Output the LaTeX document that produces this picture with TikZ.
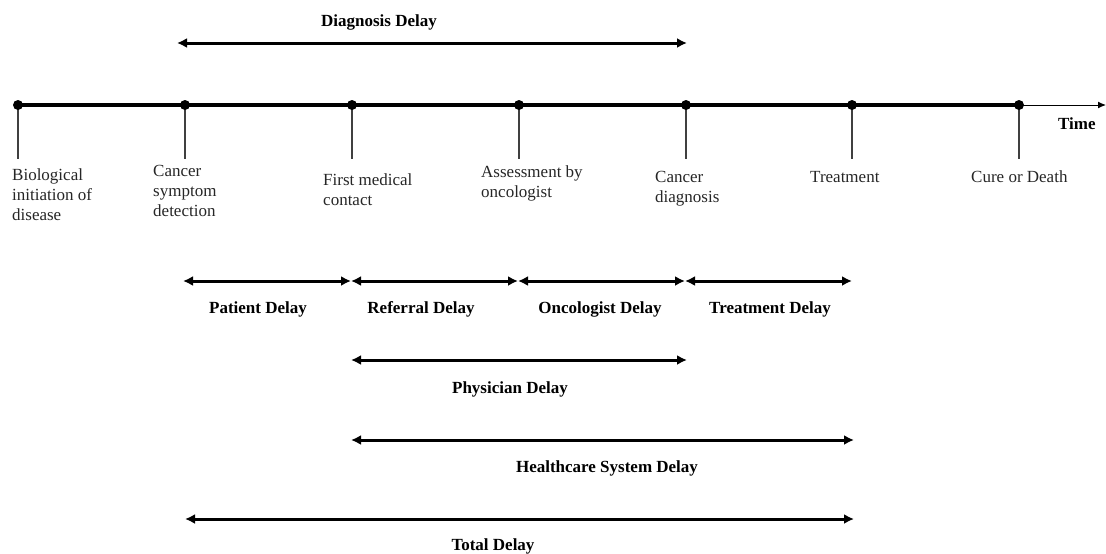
\documentclass[tikz,border=0pt]{standalone}
\usepackage{fontspec}
\setmainfont{Liberation Serif}
\usetikzlibrary{arrows.meta}
\begin{document}
\begin{tikzpicture}[x=1pt,y=-1pt,
  lbl/.style={anchor=base west,inner sep=0pt,align=left,font=\fontsize{17}{20}\selectfont,text=black!85},
  blbl/.style={anchor=base,inner sep=0pt,font=\fontsize{17}{20}\selectfont\bfseries},
  dly/.style={line width=3pt,{Latex[length=10pt,width=10pt]}-{Latex[length=10pt,width=10pt]},shorten <=-1pt,shorten >=-1pt},
  tick/.style={line width=1.3pt,black!75},
  dot/.style={circle,fill=black,inner sep=0pt,minimum size=10pt}]
\useasboundingbox (0,0) rectangle (1106,554);
% timeline points
\foreach \n/\x in {p0/18,p1/185,p2/352,p3/519,p4/686,p5/852,p6/1019}{
  \coordinate (\n c) at (\x,105);
  \coordinate (\n b) at (\x,159);
}
\coordinate (tend) at (1106,105);
\draw[line width=3.8pt] (p0c) -- (p6c);
\draw[line width=1pt,-{Latex[length=8pt,width=7pt]}] (p6c) -- (tend);
\foreach \n in {p0,p1,p2,p3,p4,p5,p6}{
  \draw[tick] (\n c) -- (\n b);
  \node[dot] (\n) at (\n c) {};
}
% event labels (anchor = baseline of last line)
\node[lbl] (l0) at (12,220) {Biological\\initiation of\\disease};
\node[lbl] (l1) at (153,216) {Cancer\\symptom\\detection};
\node[lbl] (l2) at (323,205) {First medical\\contact};
\node[lbl] (l3) at (481,197) {Assessment by\\oncologist};
\node[lbl] (l4) at (655,202) {Cancer\\diagnosis};
\node[lbl] (l5) at (810,182) {Treatment};
\node[lbl] (l6) at (971,182) {Cure or Death};
\node[blbl,anchor=base west] (tm) at (1058,129) {Time};
% diagnosis delay
\coordinate (dA) at (178,43);
\coordinate (dB) at (686,43);
\draw[dly] (dA) -- (dB);
\node[blbl] (dd) at (379,27) {Diagnosis Delay};
% row of delays
\coordinate (r1a) at (185,281); \coordinate (r1b) at (352,281);
\coordinate (r2a) at (352,281); \coordinate (r2b) at (519,281);
\coordinate (r3a) at (519,281); \coordinate (r3b) at (686,281);
\coordinate (r4a) at (686,281); \coordinate (r4b) at (852,281);
\draw[dly,shorten <=-2pt,shorten >=1pt] (r1a) -- (r1b);
\draw[dly,shorten <=-1pt,shorten >=1pt] (r2a) -- (r2b);
\draw[dly,shorten <=-1pt,shorten >=1pt] (r3a) -- (r3b);
\draw[dly,shorten <=-1pt,shorten >=0pt] (r4a) -- (r4b);
\node[blbl] (t1) at (258,313) {Patient Delay};
\node[blbl] (t2) at (421,313) {Referral Delay};
\node[blbl] (t3) at (600,313) {Oncologist Delay};
\node[blbl] (t4) at (770,313) {Treatment Delay};
% physician
\coordinate (phA) at (352,360); \coordinate (phB) at (686,360);
\draw[dly] (phA) -- (phB);
\node[blbl] (ph) at (510,393) {Physician Delay};
% healthcare
\coordinate (hcA) at (352,440); \coordinate (hcB) at (853,440);
\draw[dly] (hcA) -- (hcB);
\node[blbl] (hc) at (607,472) {Healthcare System Delay};
% total
\coordinate (toA) at (186,519); \coordinate (toB) at (853,519);
\draw[dly] (toA) -- (toB);
\node[blbl] (to) at (493,550) {Total Delay};
\end{tikzpicture}
\end{document}
